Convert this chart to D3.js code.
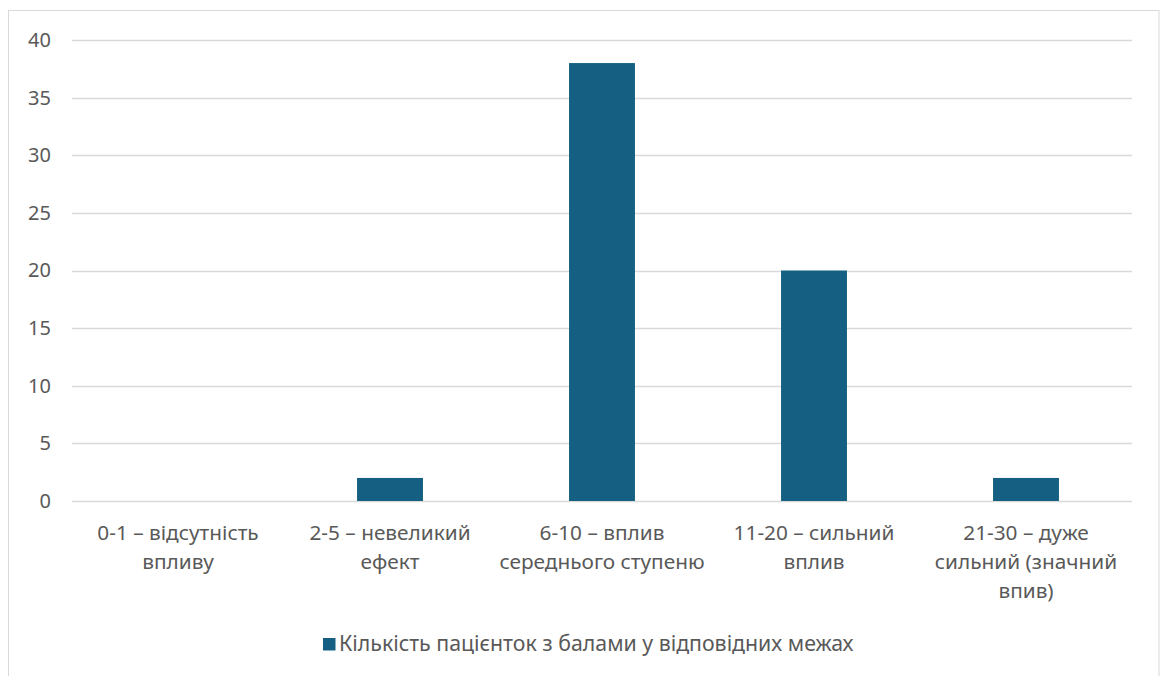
<!DOCTYPE html>
<html>
<head>
<meta charset="utf-8">
<script src="https://cdn.jsdelivr.net/npm/d3@7"></script>
<style>
  html, body { margin: 0; padding: 0; background: #fff; }
  svg { display: block; font-family: "Noto Sans", "Open Sans", sans-serif; }
</style>
</head>
<body>
<svg id="chart" width="1160" height="676"></svg>
<script>
// Score ranges (category labels, line breaks as drawn under the axis)
const categories = [
  "0-1 – відсутність\nвпливу",
  "2-5 – невеликий\nефект",
  "6-10 – вплив\nсереднього ступеню",
  "11-20 – сильний\nвплив",
  "21-30 – дуже\nсильний (значний\nвпив)"
];
// Number of patients in each score range
const patientCounts = [0, 2, 38, 20, 2];
const yTicks = [0, 5, 10, 15, 20, 25, 30, 35, 40];
const seriesName = "Кількість пацієнток з балами у відповідних межах";

const svg = d3.select("#chart");
const barColor = "#156082";
const textColor = "#595959";
const gridColor = "#d9d9d9";

const plot = { left: 72, right: 1132, top: 40, bottom: 501 };

// Outer chart frame
svg.append("rect")
  .attr("x", 8.5).attr("y", 10.5)
  .attr("width", 1150.5).attr("height", 700)
  .attr("fill", "#fff")
  .attr("stroke", "#d9d9d9").attr("stroke-width", 1);

const x = d3.scaleBand()
  .domain(categories)
  .range([plot.left, plot.right])
  .paddingInner(0.689)
  .paddingOuter(0.3445);

const y = d3.scaleLinear()
  .domain([0, 40])
  .range([plot.bottom, plot.top]);

// Horizontal gridlines
svg.append("g")
  .selectAll("line")
  .data(yTicks)
  .join("line")
  .attr("x1", plot.left).attr("x2", plot.right)
  .attr("y1", d => Math.round(y(d)) + 0.5)
  .attr("y2", d => Math.round(y(d)) + 0.5)
  .attr("stroke", gridColor).attr("stroke-width", 1.3);

// Y axis labels
const yAxis = d3.axisLeft(y).tickValues(yTicks).tickSize(0).tickPadding(0);
const yg = svg.append("g")
  .attr("transform", `translate(${plot.left - 21},0)`)
  .call(yAxis);
yg.select(".domain").remove();
yg.selectAll("text")
  .attr("fill", textColor)
  .attr("font-size", 20)
  .attr("font-family", "Noto Sans, sans-serif");

// Bars
svg.append("g")
  .selectAll("rect")
  .data(categories.map((c, i) => ({ c, v: patientCounts[i] })))
  .join("rect")
  .attr("x", d => x(d.c))
  .attr("width", x.bandwidth())
  .attr("y", d => y(d.v))
  .attr("height", d => y(0) - y(d.v))
  .attr("fill", barColor);

// Category labels (multi-line)
const xg = svg.append("g");
categories.forEach(c => {
  const lines = c.split("\n");
  const t = xg.append("text")
    .attr("text-anchor", "middle")
    .attr("fill", textColor)
    .attr("font-size", 20.8);
  lines.forEach((ln, i) => {
    t.append("tspan")
      .attr("x", x(c) + x.bandwidth() / 2)
      .attr("y", 540 + i * 29)
      .text(ln);
  });
});

// Legend
const legend = svg.append("g");
legend.append("rect")
  .attr("x", 323).attr("y", 638)
  .attr("width", 12.5).attr("height", 12.5)
  .attr("fill", barColor);
legend.append("text")
  .attr("x", 339).attr("y", 651)
  .attr("fill", textColor)
  .attr("font-size", 21.3)
  .text(seriesName);
</script>
</body>
</html>
